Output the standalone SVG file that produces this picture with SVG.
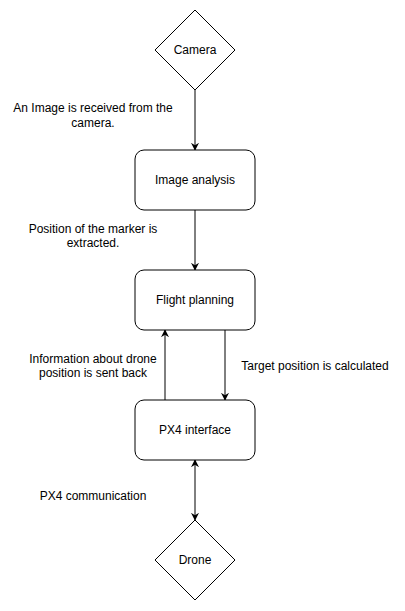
<svg xmlns="http://www.w3.org/2000/svg" width="405" height="611" viewBox="0 0 405 611">
<defs>
<marker id="arr" viewBox="0 0 10 10" refX="9" refY="5" markerWidth="8" markerHeight="8" markerUnits="userSpaceOnUse" orient="auto-start-reverse">
<path d="M0,0 L10,5 L0,10 L3,5 Z" fill="#000"/>
</marker>
<style>
.n{fill:#fff;stroke:#000;stroke-width:1}
.t{font-family:"Liberation Sans",Arial,Helvetica,sans-serif;font-size:12px;fill:#000;text-anchor:middle}
.c{stroke:#000;stroke-width:1;fill:none}
</style>
</defs>
<rect width="405" height="611" fill="#fff"/>
<g id="connectors">
<path class="c" d="M195,90 L195,150" marker-end="url(#arr)"/>
<path class="c" d="M195,210 L195,270" marker-end="url(#arr)"/>
<path class="c" d="M225,330 L225,400" marker-end="url(#arr)"/>
<path class="c" d="M165,400 L165,330" marker-end="url(#arr)"/>
<path class="c" d="M195,460 L195,520" marker-start="url(#arr)" marker-end="url(#arr)"/>
<text class="t" x="93" y="112">An Image is received from the</text>
<text class="t" x="93" y="127">camera.</text>
<text class="t" x="93" y="233">Position of the marker is</text>
<text class="t" x="93" y="247">extracted.</text>
<text class="t" x="93" y="363">Information about drone</text>
<text class="t" x="93" y="377">position is sent back</text>
<text class="t" x="315" y="370">Target position is calculated</text>
<text class="t" x="93" y="500">PX4 communication</text>
</g>
<g id="camera">
<path class="n" d="M195,10 L235,50 L195,90 L155,50 Z"/>
<text class="t" x="195" y="54">Camera</text>
</g>
<g id="image-analysis">
<rect class="n" x="135" y="150" width="120" height="60" rx="9"/>
<text class="t" x="195" y="184">Image analysis</text>
</g>
<g id="flight-planning">
<rect class="n" x="135" y="270" width="120" height="60" rx="9"/>
<text class="t" x="195" y="304">Flight planning</text>
</g>
<g id="px4-interface">
<rect class="n" x="135" y="400" width="120" height="60" rx="9"/>
<text class="t" x="195" y="434">PX4 interface</text>
</g>
<g id="drone">
<path class="n" d="M195,520 L235,560 L195,600 L155,560 Z"/>
<text class="t" x="195" y="564">Drone</text>
</g>
</svg>
